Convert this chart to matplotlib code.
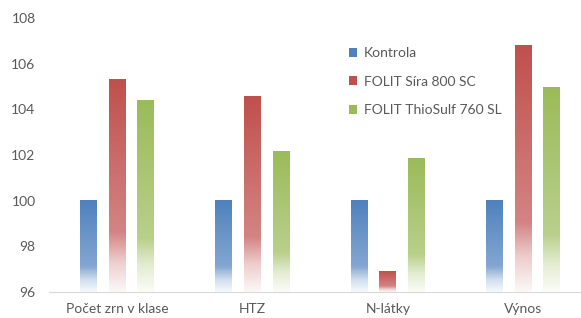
import numpy as np
import matplotlib
matplotlib.use("Agg")
import matplotlib.pyplot as plt
from matplotlib.patches import Patch

categories = ["Počet zrn v klase", "HTZ", "N-látky", "Výnos"]
series = ["Kontrola", "FOLIT Síra 800 SC", "FOLIT ThioSulf 760 SL"]
kontrola = [100, 100, 100, 100]
sira = [105.3, 104.55, 96.88, 106.8]
thiosulf = [104.4, 102.15, 101.85, 104.95]
colors = ["#4F81BD", "#C0504D", "#9BBB59"]

plt.rcParams["font.family"] = ["Lato", "DejaVu Sans"]

fig = plt.figure(figsize=(5.81, 3.18), dpi=100)
ax = fig.add_axes([0.085, 0.082, 0.932, 0.861])

ymin, ymax = 96, 108
width = 0.125
offsets = [-0.212, 0, 0.212]

# white fraction along the bar, top (0) -> bottom (1)
t_stops = [0.0, 0.72, 0.86, 1.0]
w_stops = [0.0, 0.3, 0.72, 0.96]


def gradient_bar(x, top, color):
    rgb = np.array(matplotlib.colors.to_rgb(color))
    t = np.linspace(0, 1, 200)
    w = np.interp(t, t_stops, w_stops)
    img = rgb[None, :] * (1 - w[:, None]) + w[:, None]
    img = img[:, None, :]
    ax.imshow(img, extent=[x - width / 2, x + width / 2, ymin, top],
              aspect="auto", origin="upper", zorder=2, interpolation="bilinear")


for i, vals in enumerate([kontrola, sira, thiosulf]):
    for j, v in enumerate(vals):
        gradient_bar(j + offsets[i], v, colors[i])

ax.set_xlim(-0.5, len(categories) - 0.5)
ax.set_ylim(ymin, ymax)
ax.set_xticks(range(len(categories)))
ax.set_xticklabels(categories)
ax.set_yticks(range(96, 109, 2))
ax.tick_params(axis="both", length=0, labelsize=10, colors="#595959")
ax.tick_params(axis="x", pad=8)
ax.tick_params(axis="y", pad=10)
for s in ["top", "right", "left"]:
    ax.spines[s].set_visible(False)
ax.spines["bottom"].set_color("#D9D9D9")

handles = [Patch(facecolor=c, label=s) for c, s in zip(colors, series)]
leg = ax.legend(handles=handles, loc="upper left", bbox_to_anchor=(0.53, 0.94),
                frameon=False, fontsize=10, labelcolor="#595959",
                handlelength=0.6, handleheight=0.6, handletextpad=0.5,
                labelspacing=1.2)

fig.savefig("out.png", dpi=100)
